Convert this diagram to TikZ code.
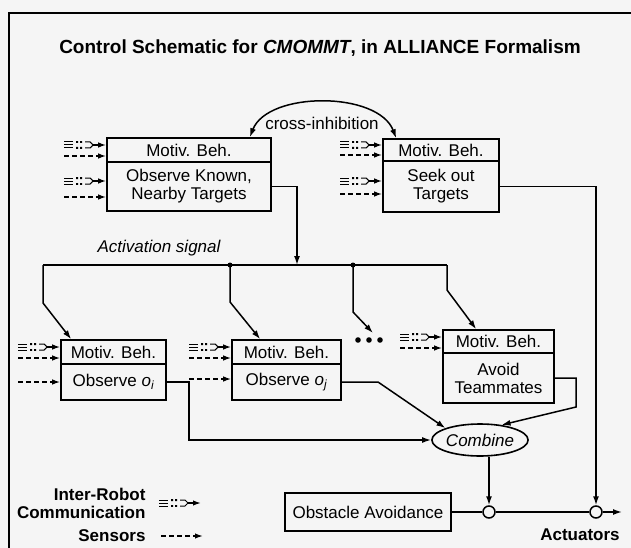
\documentclass[tikz,border=0pt]{standalone}
\usepackage{fontspec}
\setmainfont{Liberation Sans}
\usetikzlibrary{arrows.meta,shapes.geometric}
\definecolor{bg}{HTML}{F5F5F5}
\begin{document}
\begin{tikzpicture}[x=1pt,y=-1pt,
  bx/.style={draw,line width=1.6pt,inner sep=0pt,align=center,font=\fontsize{17}{18}\selectfont},
  arr/.style={line width=1.5pt,-{Latex[length=9pt,width=6pt]}},
  ln/.style={line width=1.5pt},
  lbl/.style={font=\fontsize{17}{18}\selectfont},
  blbl/.style={font=\bfseries\fontsize{17}{18}\selectfont},
  jdot/.style={circle,fill,inner sep=0pt,minimum size=5pt},
  junc/.style={circle,draw,line width=1.5pt,fill=bg,inner sep=0pt,minimum size=12pt},
  commsym/.pic={
    \draw[line width=1pt] (-42,-3)--(-33,-3) (-42,0)--(-33,0) (-42,3)--(-33,3);
    \fill (-30,-3.8) rectangle (-28,-2) (-30,2) rectangle (-28,3.8)
          (-26,-3.8) rectangle (-24,-2) (-26,2) rectangle (-24,3.8);
    \draw[line width=1pt] (-21,-3)--(-16,-3)--(-13,0) (-21,3)--(-16,3)--(-13,0);
    \draw[line width=1.5pt,-{Latex[length=8pt,width=5.5pt]}] (-14,0)--(0,0);
  },
  senssym/.pic={
    \draw[line width=1.5pt,dash pattern=on 5pt off 3pt,-{Latex[length=8pt,width=5.5pt]}] (-42,0)--(0,0);
  }
]
\fill[bg] (0,0) rectangle (631,548);
\useasboundingbox (0,0) rectangle (631,548);
% frame
\draw[line width=1.6pt] (9,560) -- (9,13) -- (640,13);

\node[font=\bfseries\fontsize{19}{22}\selectfont] (title) at (320,48)
  {Control Schematic for \textit{CMOMMT}, in ALLIANCE Formalism};

% top behaviour sets
\node[bx,minimum width=164pt,minimum height=24pt] (h1) at (189,150) {Motiv. Beh.};
\node[bx,minimum width=164pt,minimum height=49pt] (b1) at (189,186.5) {Observe Known,\\Nearby Targets};
\node[bx,minimum width=116pt,minimum height=22pt] (h2) at (441,150) {Motiv. Beh.};
\node[bx,minimum width=116pt,minimum height=51pt] (b2) at (441,186.5) {Seek out\\Targets};

% lower behaviour sets
\node[bx,minimum width=105pt,minimum height=24pt] (h3) at (113.5,352) {Motiv. Beh.};
\node[bx,minimum width=105pt,minimum height=36pt] (b3) at (113.5,382) {Observe \textit{o}\textsubscript{\textit{i}}};
\node[bx,minimum width=109pt,minimum height=24pt] (h4) at (286.5,352) {Motiv. Beh.};
\node[bx,minimum width=109pt,minimum height=36pt] (b4) at (286.5,382) {Observe \textit{o}\textsubscript{\textit{j}}};
\node[bx,minimum width=111pt,minimum height=23pt] (h5) at (498.5,341.5) {Motiv. Beh.};
\node[bx,minimum width=111pt,minimum height=50pt] (b5) at (498.5,378) {Avoid\\Teammates};

\node[bx,minimum width=166pt,minimum height=38pt] (obst) at (368,512) {Obstacle Avoidance};
\node[ellipse,draw,line width=1.6pt,inner sep=0pt,minimum width=84pt,minimum height=32pt,
      font=\itshape\fontsize{17}{18}\selectfont] (comb) at (480,440) {Combine};
\node[junc] (c1) at (489,512) {};
\node[junc] (c2) at (596,512) {};
\coordinate (act) at (622,512);

% cross inhibition
\draw[line width=1.5pt,{Latex[length=9pt,width=6pt]}-{Latex[length=9pt,width=6pt]}]
  ([xshift=-22pt]h1.north east) .. controls (268,91) and (378,91) .. ([xshift=14pt]h2.north west);
\node[lbl] (ci) at (322,123) {cross-inhibition};

% activation signal bus
\node[lbl,font=\itshape\fontsize{17}{18}\selectfont] (act-sig) at (159,248) {Activation signal};
\coordinate (j0) at (43,265);
\coordinate (j1) at (230,265);
\coordinate (j2) at (297,265);
\coordinate (j3) at (353,265);
\coordinate (j4) at (447,265);
\draw[ln] (j0) -- (j4);
\node[jdot] at (j1) {};
\node[jdot] at (j3) {};
\draw[arr] (b1.east) -| (j2);
\draw[arr] (j0) -- (43,303) -- ([xshift=11pt]h3.north west);
\draw[arr] (j1) -- (230,302) -- ([xshift=29pt]h4.north west);
\coordinate (dtip) at (373,333);
\draw[arr] (j3) -- (353,312) -- (dtip);
\fill (358,340) circle (2.8) (369,340) circle (2.8) (380,340) circle (2.8);
\draw[arr] (j4) -- (447,290) -- ([xshift=34pt]h5.north west);

% outputs
\draw[arr] (b2.east) -| (c2.north);
\draw[arr] (b3.east) -| (189,440) -- (comb.west);
\draw[arr] (b4.east) -- (378,382) -- (comb.north west);
\draw[arr] (b5.east) -| (576,407) -- (comb.35);
\draw[arr] (comb.south -| c1) -- (c1.north);
\draw[ln] (obst.east) -- (c1.west);
\draw[ln] (c1.east) -- (c2.west);
\draw[arr] (c2.east) -- (act);
\node[blbl] (actl) at (580,535) {Actuators};

% inputs
\pic at ([yshift=5pt]h1.west) {commsym};
\pic at ([yshift=-6pt]h1.west) {senssym};
\pic at ([yshift=5.5pt]b1.west) {commsym};
\pic at ([yshift=-10.5pt]b1.west) {senssym};
\pic at ([yshift=5pt]h2.west) {commsym};
\pic at ([yshift=-5pt]h2.west) {senssym};
\pic at ([yshift=5.5pt]b2.west) {commsym};
\pic at ([yshift=-7.5pt]b2.west) {senssym};
\pic at ([yshift=5pt]h3.west) {commsym};
\pic at ([yshift=-6pt]h3.west) {senssym};
\pic at (b3.west) {senssym};
\pic at ([yshift=5pt]h4.west) {commsym};
\pic at ([yshift=-6pt]h4.west) {senssym};
\pic at ([yshift=3pt]b4.west) {senssym};
\pic at ([yshift=4.5pt]h5.west) {commsym};
\pic at ([yshift=-6.5pt]h5.west) {senssym};

% legend
\node[blbl,anchor=east] (ir) at (149,494) {Inter-Robot};
\node[blbl,anchor=east] (cm) at (149,512) {Communication};
\pic at (201,503) {commsym};
\node[blbl,anchor=east] (sn) at (149,536) {Sensors};
\pic at (203,536) {senssym};
\end{tikzpicture}
\end{document}
